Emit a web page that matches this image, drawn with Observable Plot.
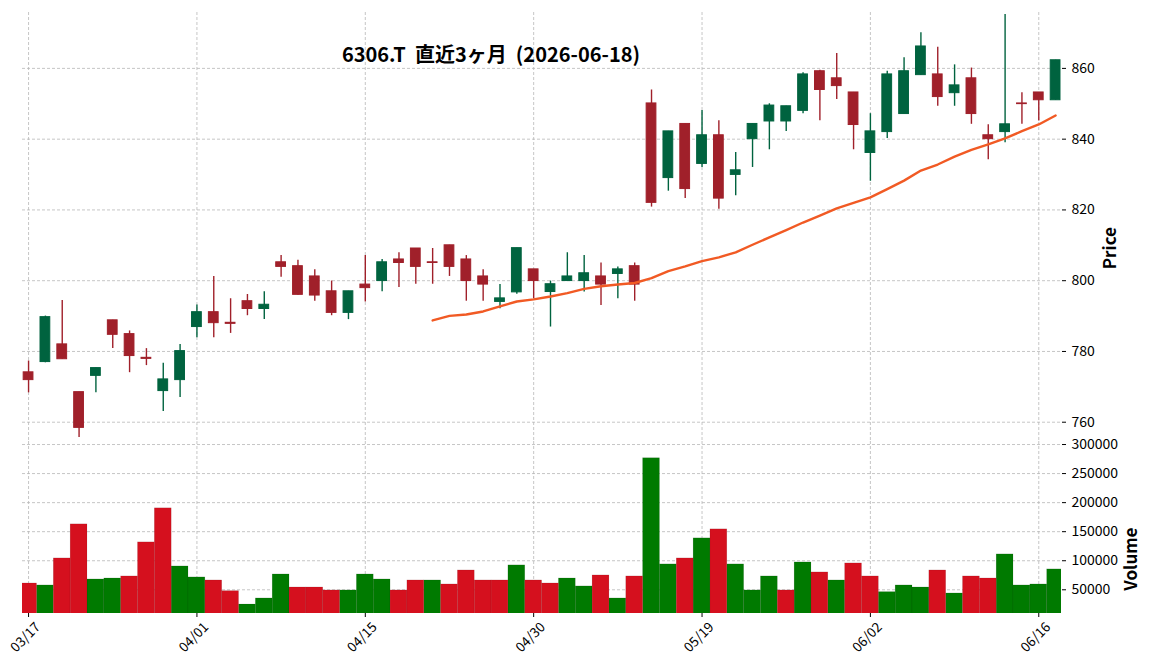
<!DOCTYPE html>
<html>
<head>
<meta charset="utf-8">
<script src="https://cdn.jsdelivr.net/npm/d3@7"></script>
<script src="https://cdn.jsdelivr.net/npm/@observablehq/plot@0.6"></script>
<style>
  html, body { margin: 0; padding: 0; background: #fff; }
  #wrap { position: relative; width: 1152px; height: 670px; overflow: hidden; font-family: "Noto Sans CJK JP", "Noto Sans", sans-serif; }
  #title { position: absolute; left: 0; width: 982px; top: 42px; text-align: center; font-size: 20px; font-weight: bold; line-height: 24px; white-space: pre; color: #000; }
  #price, #volume { position: absolute; left: 0; }
  #price { top: 0; }
  #volume { top: 441px; }
  svg { display: block; }
</style>
</head>
<body>
<div id="wrap">
  <div id="price"></div>
  <div id="volume"></div>
  <div id="title">6306.T  直近3ヶ月  (2026-06-18)</div>
</div>
<script>
const dates = ["03/17","03/18","03/19","03/23","03/24","03/25","03/26","03/27","03/30","03/31",
  "04/01","04/02","04/03","04/06","04/07","04/08","04/09","04/10","04/13","04/14",
  "04/15","04/16","04/17","04/20","04/21","04/22","04/23","04/24","04/27","04/28",
  "04/30","05/01","05/07","05/08","05/11","05/12","05/13","05/14","05/15","05/18",
  "05/19","05/20","05/21","05/22","05/25","05/26","05/27","05/28","05/29","06/01",
  "06/02","06/03","06/04","06/05","06/08","06/09","06/10","06/11","06/12","06/15",
  "06/16","06/17"];
const opens = [774.1,777.0,782.0,768.5,773.1,788.8,784.9,778.2,768.8,771.9,
  786.9,791.1,788.1,794.2,792.0,805.2,804.1,801.2,797.0,790.9,
  798.9,799.9,806.0,809.1,805.2,810.0,806.0,801.2,794.0,796.7,
  803.2,796.8,799.9,799.9,801.2,801.9,804.1,850.1,829.0,844.3,
  833.0,841.1,829.9,840.0,845.0,845.0,848.0,859.2,857.2,853.2,
  836.1,842.0,847.1,858.1,858.3,853.0,857.2,841.1,842.0,850.1,
  853.2,851.0];
const highs = [777.3,790.0,794.4,768.5,775.3,788.8,785.8,780.8,776.7,782.0,
  793.1,801.2,794.9,796.1,796.9,807.1,805.8,803.1,799.9,797.0,
  807.1,806.0,807.9,809.1,809.1,810.0,807.1,803.1,798.9,809.2,
  803.2,799.9,807.9,807.1,805.0,803.9,805.0,853.9,842.2,844.3,
  848.1,845.2,836.2,844.3,850.0,849.3,858.8,859.5,864.2,853.2,
  847.2,859.2,863.0,870.1,866.0,861.0,860.1,844.1,875.2,853.1,
  853.2,862.3];
const lows = [768.3,776.8,777.8,755.7,768.3,780.8,774.0,776.0,763.0,767.0,
  783.9,783.9,785.1,790.1,789.0,801.0,795.9,794.2,790.1,789.0,
  794.0,796.9,798.1,799.0,799.0,801.2,794.2,794.2,792.1,796.2,
  794.9,786.9,799.9,796.8,793.0,794.9,794.2,820.8,825.3,823.2,
  832.0,820.2,824.0,832.0,837.0,842.2,847.2,845.2,851.2,837.0,
  828.1,840.2,847.1,858.1,849.3,849.3,844.2,834.2,839.0,844.2,
  845.1,851.0];
const closes = [771.9,789.7,777.8,758.4,775.3,784.7,778.7,777.9,772.1,780.1,
  791.1,788.0,787.8,792.0,793.2,803.9,796.0,795.8,790.9,797.0,
  797.9,805.2,805.0,803.9,805.0,803.9,799.9,798.9,795.0,809.2,
  799.9,799.0,801.2,802.1,798.9,803.2,798.9,822.0,842.2,825.9,
  841.1,823.2,831.2,844.3,849.5,849.3,858.3,853.9,855.0,844.0,
  842.2,858.3,859.2,866.2,851.9,855.2,847.1,840.0,844.2,849.9,
  851.0,862.3];
const volumes = [60900,57500,104000,162600,67800,69500,73000,131600,190200,90200,
  71300,66100,47700,24700,35100,76400,54000,54000,48900,48900,
  76400,67800,48900,66100,66100,59200,83300,66100,66100,92000,
  66100,60900,69500,55800,74700,35100,73000,276400,93700,104000,
  138500,154000,93700,48900,73000,48900,97100,79900,66100,95400,
  73000,46000,57500,54000,83300,43700,73000,69500,110900,57500,
  59200,85100];
const priceTicks = [760, 780, 800, 820, 840, 860];
const volumeTicks = [50000, 100000, 150000, 200000, 250000, 300000];
const dateTickIndex = [0, 10, 20, 30, 40, 50, 60];

const data = dates.map((d, i) => ({
  i, date: d, open: opens[i], high: highs[i], low: lows[i], close: closes[i], vol: volumes[i],
  up: closes[i] >= opens[i],
  volUp: i > 0 && closes[i] >= closes[i - 1]
}));

const UP = "#00633f", DOWN = "#a0202a";
const VUP = "#007a00", VDOWN = "#d5101e";
const GRID = {stroke: "#b8b8b8", strokeOpacity: 1, strokeWidth: 0.8, strokeDasharray: "3,2"};
const FONT = "Noto Sans CJK JP, Noto Sans, sans-serif";
const xDomain = [-0.36, 61.35];
const W = 1152, ML = 22, MR = 91;
const half = 0.29;

const price = Plot.plot({
  width: W, height: 441,
  marginLeft: ML, marginRight: MR, marginTop: 12, marginBottom: 0,
  style: {fontFamily: FONT, fontSize: "14px", background: "transparent", overflow: "visible"},
  x: {domain: xDomain, axis: null},
  y: {domain: [754.55, 875.8], axis: null},
  marks: [
    Plot.gridY(priceTicks, GRID),
    Plot.gridX(dateTickIndex, GRID),
    Plot.ruleX(data.filter(d => d.up), {x: "i", y1: "low", y2: "high", stroke: UP, strokeWidth: 1.4}),
    Plot.ruleX(data.filter(d => !d.up), {x: "i", y1: "low", y2: "high", stroke: DOWN, strokeWidth: 1.4}),
    Plot.rect(data.filter(d => d.up), {x1: d => d.i - half, x2: d => d.i + half, y1: "open", y2: "close", fill: UP, stroke: UP, strokeWidth: 1}),
    Plot.rect(data.filter(d => !d.up), {x1: d => d.i - half, x2: d => d.i + half, y1: "open", y2: "close", fill: DOWN, stroke: DOWN, strokeWidth: 1}),
    Plot.lineY(data, Plot.windowY({k: 25, anchor: "end", strict: true, reduce: "mean"}, {x: "i", y: "close", stroke: "#f15a24", strokeWidth: 2.4})),
    Plot.axisY(priceTicks, {anchor: "right", tickSize: 4, tickPadding: 6, fontSize: 14, label: null, stroke: "#000"}),
    Plot.text(["Price"], {frameAnchor: "right", dx: 49, rotate: -90, fontSize: 17, fontWeight: "bold"})
  ]
});
document.getElementById("price").appendChild(price);

const volume = Plot.plot({
  width: W, height: 229,
  marginLeft: ML, marginRight: MR, marginTop: 0, marginBottom: 57,
  style: {fontFamily: FONT, fontSize: "14px", background: "transparent", overflow: "visible"},
  x: {domain: xDomain, axis: null},
  y: {domain: [9200, 305200], axis: null},
  marks: [
    Plot.gridY(volumeTicks, GRID),
    Plot.gridX(dateTickIndex, GRID),
    Plot.rectY(data.filter(d => d.volUp), {x1: d => d.i - 0.5, x2: d => d.i + 0.5, y: "vol", fill: VUP, stroke: "#00000022", strokeWidth: 0.6, clip: true}),
    Plot.rectY(data.filter(d => !d.volUp), {x1: d => d.i - 0.5, x2: d => d.i + 0.5, y: "vol", fill: VDOWN, stroke: "#00000022", strokeWidth: 0.6, clip: true}),
    Plot.axisY(volumeTicks, {anchor: "right", tickSize: 4, tickPadding: 6, fontSize: 14, label: null, tickFormat: d => String(d)}),
    Plot.axisX(dateTickIndex, {anchor: "bottom", tickSize: 4, label: null, tickFormat: () => ""}),
    Plot.text(dateTickIndex, {x: d => d, text: d => dates[d], frameAnchor: "bottom", dy: 27, rotate: -45, textAnchor: "middle", fontSize: 13.5}),
    Plot.text(["Volume"], {frameAnchor: "right", dx: 70, rotate: -90, fontSize: 17, fontWeight: "bold"})
  ]
});
document.getElementById("volume").appendChild(volume);
</script>
</body>
</html>
